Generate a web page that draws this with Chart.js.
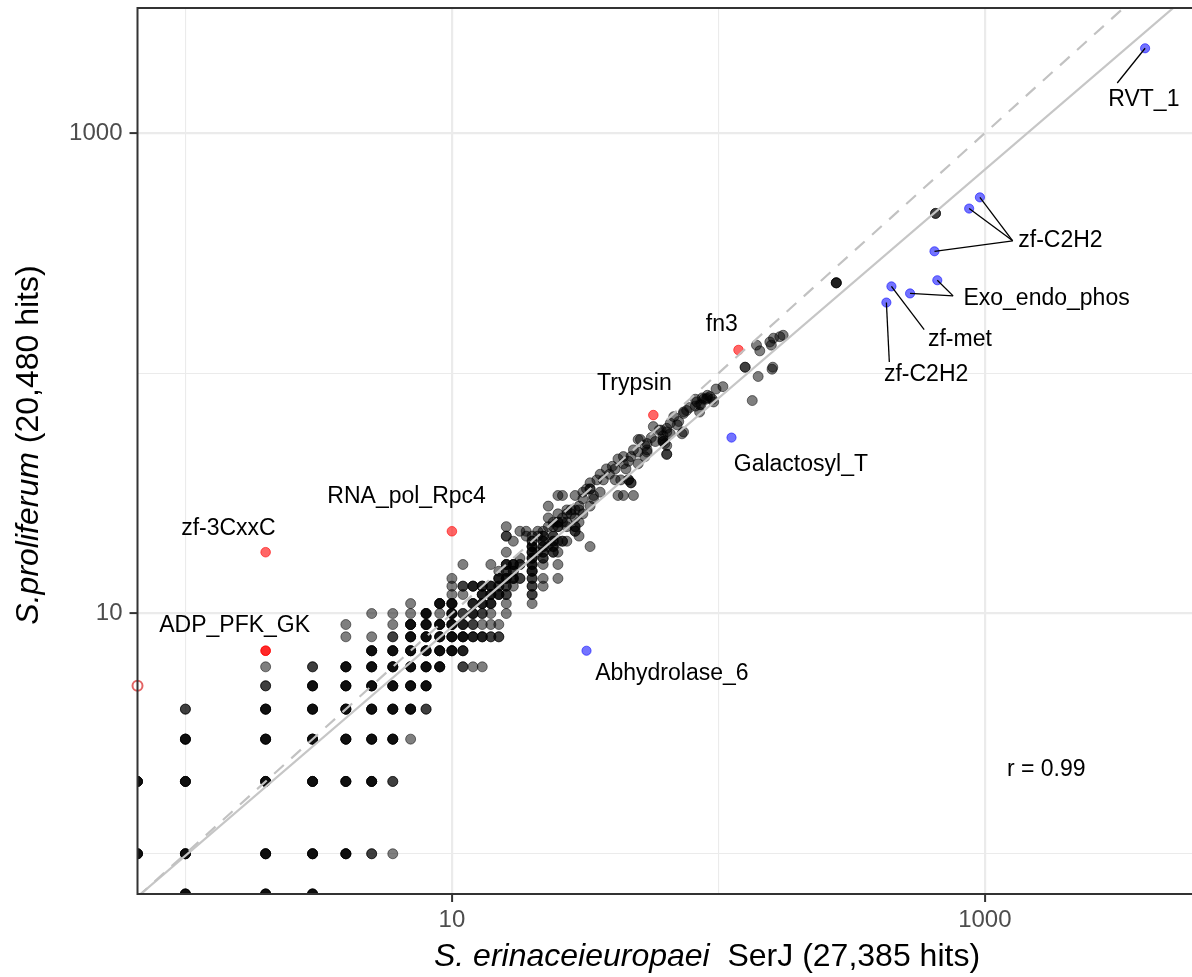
<!DOCTYPE html>
<html lang="en">
<head>
<meta charset="UTF-8">
<title>Pfam hits: SerJ vs S. proliferum</title>
<script src="https://cdn.jsdelivr.net/npm/chart.js@4"></script>
<style>
  html, body { margin: 0; padding: 0; background: #fff; overflow: hidden; }
  #wrap { width: 1192px; height: 977px; overflow: hidden; }
</style>
</head>
<body>
<div id="wrap"><canvas id="grafica" width="1200" height="977"></canvas></div>
<script>
// Pfam families: [SerJ hits, S. proliferum hits, families sharing that spot]
const familyCounts = [
  [1,0,4],[2,0,4],[3,0,4],
  [0,1,4],[1,1,4],[2,1,4],[3,1,4],[4,1,4],[5,1,2],[6,1,1],
  [0,2,4],[1,2,4],[2,2,4],[3,2,4],[4,2,4],[5,2,4],[6,2,2],
  [1,3,4],[2,3,4],[3,3,4],[4,3,4],[5,3,4],[6,3,4],[7,3,1],
  [1,4,2],[2,4,4],[3,4,4],[4,4,4],[5,4,4],[6,4,4],[7,4,4],[8,4,2],
  [2,5,2],[3,5,4],[4,5,4],[5,5,4],[6,5,4],[7,5,4],[8,5,4],
  [2,6,1],[3,6,2],[4,6,4],[5,6,4],[6,6,4],[7,6,4],[8,6,4],[9,6,4],[11,6,2],[12,6,1],[13,6,1],
  [5,7,4],[6,7,4],[7,7,4],[8,7,4],[9,7,4],[10,7,4],[11,7,3],
  [4,8,1],[5,8,1],[6,8,2],[7,8,4],[8,8,4],[9,8,4],[10,8,4],[11,8,4],[12,8,3],[13,8,3],[14,8,2],[15,8,2],
  [4,9,1],[6,9,1],[7,9,4],[8,9,4],[9,9,4],[10,9,4],[11,9,3],[12,9,2],[13,9,1],[14,9,1],[15,9,1],
  [5,10,1],[6,10,1],[7,10,1],[8,10,4],[9,10,1],[10,10,4],[11,10,2],[12,10,3],[13,10,2],[14,10,1],[16,10,1],
  [7,11,1],[9,11,4],[10,11,4],[12,11,3],[13,11,3],[14,11,3],[16,11,1],[20,11,1],
  [10,12,1],[11,12,1],[13,12,3],[14,12,3],[15,12,3],[16,12,2],[20,12,2],
  [10,13,1],[11,13,2],[12,13,3],[13,13,3],[14,13,3],[15,13,2],[16,13,2],[17,13,1],[20,13,2],[22,13,1],
  [10,14,1],[15,14,3],[16,14,3],[17,14,3],[18,14,2],[20,14,2],[22,14,1],[25,14,1],
  [15,15,1],[16,15,2],[17,15,2],[20,15,3],
  [11,16,1],[14,16,1],[16,16,3],[17,16,3],[18,16,2],[20,16,3],[22,16,1],[25,16,1],
  [18,17,1],[20,17,3],[22,17,2],
  [16,18,1],[20,18,3],[21,18,1],[22,18,2],[24,18,2],[25,18,1],
  [20,19,3],[22,19,2],[23,19,1],[24,19,2],[33,19,1],
  [17,20,1],[20,20,2],[22,20,2],[24,20,2],[25,20,1],[26,20,2],[27,20,1],
  [16,21,2],[19,21,1],[20,21,1],[21,21,1],[22,21,2],[24,21,2],[30,21,1],
  [18,22,1],[19,22,1],[21,22,1],[22,22,1],[29,22,2],
  [16,23,1],[23,23,1],[24,23,1],[25,23,2],[27,23,1],[29,23,2],
  [24,24,1],[25,24,2],[26,24,1],[27,24,1],[30,24,1],
  [23,25,1],[26,25,1],[29,25,1],
  [25,26,1],[27,26,1],[28,26,1],[31,26,1],
  [27,27,1],[28,27,1],[29,27,1],[30,27,1],
  [23,28,1],[30,28,1],[33,28,1],
  [31,30,1],[34,30,1],[25,31,1],[26,31,1],[29,31,1],[34,31,1],[42,31,1],[44,31,1],[48,31,1],
  [31,32,1],[36,32,1],[32,33,1],[33,33,2],[33,35,1],[47,35,2],[35,36,1],[37,36,1],[41,36,1],[43,36,1],[46,36,2],
  [36,38,1],[39,38,1],[38,40,1],[45,40,1],[40,41,1],[41,40,1],[50,42,1],[44,42,1],[46,43,1],[42,44,1],
  [44,45,1],[47,45,1],[53,45,1],[64,46,2],[50,47,1],[48,48,1],
  [54,47,1],[54,48,1],[53,50,1],[64,50,1],[54,51,1],[63,51,1],[51,53,1],[50,53,1],[62,52,2],[62,53,1],
  [58,52,1],[56,54,1],[62,55,1],[66,56,1],[73,56,1],[74,57,1],[64,57,1],[60,58,1],[61,58,1],[64,59,1],
  [57,60,1],[70,61,1],[71,63,1],[66,62,1],[68,66,1],
  [74,68,1],[74,69,1],[85,69,1],[76,70,1],[78,72,1],[82,73,1],[85,74,1],[86,74,1],[83,76,1],[96,76,1],[82,78,1],[88,78,1],
  [90,78,1],[95,78,1],[87,79,1],[91,79,1],[93,80,1],[91,81,1],[134,77,1],[98,86,1],[104,88,1],
  [141,97,1],[159,104,1],[160,106,1],[126,106,2],[143,124,1],[139,131,1],[158,131,1],[156,135,1],
  [161,140,1],[170,142,1],[175,144,1],[277,238,3],[653,463,2]
];

// families enriched in S. proliferum (red) and in SerJ (blue)
const redNames = ['zf-3CxxC', 'ADP_PFK_GK', 'RNA_pol_Rpc4', 'Trypsin', 'fn3'];
const redX = [2, 2, 10, 57, 119];
const redY = [18, 7, 22, 67, 125];
const redN = [1, 2, 1, 1, 1];
const ringX = [0];
const ringY = [5];

const blueNames = ['Abhydrolase_6', 'Galactosyl_T', 'RVT_1', 'zf-C2H2', 'zf-C2H2', 'zf-C2H2',
                   'Exo_endo_phos', 'Exo_endo_phos', 'zf-met', 'zf-C2H2'];
const blueX = [32, 112, 3993, 958, 873, 647, 663, 524, 446, 427];
const blueY = [7, 54, 2254, 540, 485, 322, 244, 215, 230, 197];

// axis
const tickValues = [1, 10, 100, 1000];
const tickLabels = ['', '10', '', '1000'];
const xMin = 0.661, xMax = 6040;
const yMin = 0.68, yMax = 3316;

// log10 fit line and correlation
const fitIntercept = -0.008;
const fitSlope = 0.952;
const corrText = 'r = 0.99';

// repelled labels: where the text sits (data units), which points it points to, where the segment ends
const labelSpots = [
  { text: 'RVT_1', at: [3950, 1373], pts: [2], tip: [3139, 1616] },
  { text: 'zf-C2H2', at: [1922, 356], pts: [3, 4, 5], tip: [1272, 356] },
  { text: 'Exo_endo_phos', at: [1704, 204], pts: [6, 7], tip: [760, 210] },
  { text: 'zf-met', at: [806, 138], pts: [8], tip: [592, 152] },
  { text: 'zf-C2H2', at: [602, 98.5], pts: [9], tip: [438, 111.5] },
  { text: 'Galactosyl_T', at: [204, 41.6] },
  { text: 'Abhydrolase_6', at: [66.9, 5.61] },
  { text: 'fn3', at: [103, 159] },
  { text: 'Trypsin', at: [48.4, 90.3] },
  { text: 'RNA_pol_Rpc4', at: [6.76, 30.6] },
  { text: 'zf-3CxxC', at: [1.45, 22.5] },
  { text: 'ADP_PFK_GK', at: [1.53, 8.89] }
];
const corrAt = [1700, 2.24];

const FONT = "'Liberation Sans', Arial, Helvetica, sans-serif";

// zero counts sit on the panel edge, like -Inf on a ggplot log axis
function edge(v, lo) { return v > 0 ? v : lo; }

const blackPts = [];
familyCounts.forEach(([a, b, n]) => {
  for (let i = 0; i < n; i++) blackPts.push({ x: edge(a, xMin), y: edge(b, yMin) });
});
const redPts = [];
redX.forEach((v, i) => {
  for (let k = 0; k < redN[i]; k++) redPts.push({ x: v, y: redY[i] });
});
const ringPts = ringX.map((v, i) => ({ x: edge(v, xMin), y: edge(ringY[i], yMin) }));
const bluePts = blueX.map((v, i) => ({ x: v, y: blueY[i] }));

const fitAt = x => Math.pow(10, fitIntercept + fitSlope * Math.log10(x));

function axisOpts(min, max, isX) {
  return {
    type: 'logarithmic',
    min: min, max: max,
    afterBuildTicks: s => { s.ticks = tickValues.map(v => ({ value: v })); },
    afterFit: s => {
      if (isX) s.height = 83; else s.width = 137.5;
      s.paddingTop = 0; s.paddingBottom = 0; s.paddingLeft = 0; s.paddingRight = 0;
    },
    grid: {
      color: '#ebebeb',
      lineWidth: c => (c.tick && tickLabels[tickValues.indexOf(c.tick.value)] ? 2.2 : 1.1),
      tickColor: c => (c.tick && tickLabels[tickValues.indexOf(c.tick.value)] ? '#333333' : 'rgba(0,0,0,0)'),
      tickWidth: 2,
      tickLength: 8,
      drawTicks: true
    },
    border: { display: false },
    ticks: {
      autoSkip: false, maxRotation: 0, minRotation: 0,
      padding: isX ? 4 : 7,
      color: '#4d4d4d',
      font: { family: FONT, size: 24 },
      callback: v => tickLabels[tickValues.indexOf(v)] || ''
    },
    title: { display: false }
  };
}

const decor = {
  id: 'decor',
  afterDatasetsDraw(chart) {
    const { ctx, chartArea: a, scales: { x, y } } = chart;
    const px = v => x.getPixelForValue(v);
    const py = v => y.getPixelForValue(v);

    // label segments and texts
    ctx.save();
    ctx.strokeStyle = '#000';
    ctx.lineWidth = 1.3;
    labelSpots.forEach(l => {
      (l.pts || []).forEach(i => {
        ctx.beginPath();
        ctx.moveTo(px(blueX[i]), py(blueY[i]));
        ctx.lineTo(px(l.tip[0]), py(l.tip[1]));
        ctx.stroke();
      });
    });
    ctx.fillStyle = '#000';
    ctx.font = '23px ' + FONT;
    ctx.textAlign = 'center';
    ctx.textBaseline = 'middle';
    labelSpots.forEach(l => ctx.fillText(l.text, px(l.at[0]), py(l.at[1])));
    ctx.fillText(corrText, px(corrAt[0]), py(corrAt[1]));

    // panel border
    ctx.strokeStyle = '#333333';
    ctx.lineWidth = 2;
    ctx.strokeRect(a.left, a.top, a.right - a.left, a.bottom - a.top);

    // axis titles (italic species + plain part)
    ctx.textAlign = 'left';
    ctx.textBaseline = 'alphabetic';
    const it = 'italic 32px ' + FONT, rg = '32px ' + FONT;
    const xa = 'S. erinaceieuropaei', xb = '  SerJ (27,385 hits)';
    ctx.font = it; const wxa = ctx.measureText(xa).width;
    ctx.font = rg; const wxb = ctx.measureText(xb).width;
    let sx = 707 - (wxa + wxb) / 2;
    ctx.font = it; ctx.fillText(xa, sx, 966);
    ctx.font = rg; ctx.fillText(xb, sx + wxa, 966);

    const ya = 'S.proliferum', yb = ' (20,480 hits)';
    ctx.font = it; const wya = ctx.measureText(ya).width;
    ctx.font = rg; const wyb = ctx.measureText(yb).width;
    ctx.translate(38, (a.top + a.bottom) / 2 - 6);
    ctx.rotate(-Math.PI / 2);
    const sy = -(wya + wyb) / 2;
    ctx.font = it; ctx.fillText(ya, sy, 0);
    ctx.font = rg; ctx.fillText(yb, sy + wya, 0);
    ctx.restore();
  }
};

Chart.defaults.font.family = FONT;

new Chart(document.getElementById('grafica'), {
  type: 'scatter',
  data: {
    datasets: [
      {
        label: 'y = x',
        data: [{ x: xMin, y: xMin }, { x: xMax, y: xMax }],
        showLine: true, pointRadius: 0,
        borderColor: '#c2c2c2', borderWidth: 2.2, borderDash: [13, 10],
        clip: 0, order: 0
      },
      {
        label: 'fit',
        data: [{ x: xMin, y: fitAt(xMin) }, { x: xMax, y: fitAt(xMax) }],
        showLine: true, pointRadius: 0,
        borderColor: '#c6c6c6', borderWidth: 2.2,
        clip: 0, order: 0
      },
      {
        label: 'families',
        data: blackPts,
        pointRadius: 5, borderWidth: 1,
        backgroundColor: 'rgba(0,0,0,0.5)', borderColor: 'rgba(0,0,0,0.5)',
        clip: 0, order: 3
      },
      {
        label: 'up in S. proliferum',
        data: redPts,
        pointRadius: 4.8, borderWidth: 1,
        backgroundColor: 'rgba(255,0,0,0.6)', borderColor: 'rgba(255,0,0,0.6)',
        clip: 0, order: 2
      },
      {
        label: 'zero in SerJ',
        data: ringPts,
        pointRadius: 5, borderWidth: 2,
        backgroundColor: 'rgba(0,0,0,0)', borderColor: 'rgba(220,60,60,0.8)',
        clip: false, order: 2
      },
      {
        label: 'up in SerJ',
        data: bluePts,
        pointRadius: 4.6, borderWidth: 1,
        backgroundColor: 'rgba(0,0,255,0.55)', borderColor: 'rgba(0,0,255,0.55)',
        clip: 0, order: 2
      }
    ]
  },
  options: {
    responsive: false,
    devicePixelRatio: 1,
    animation: false,
    events: [],
    layout: { padding: { top: 8, right: 2, left: 0, bottom: 0 } },
    plugins: { legend: { display: false }, tooltip: { enabled: false } },
    scales: {
      x: axisOpts(xMin, xMax, true),
      y: axisOpts(yMin, yMax, false)
    }
  },
  plugins: [decor]
});
</script>
</body>
</html>
